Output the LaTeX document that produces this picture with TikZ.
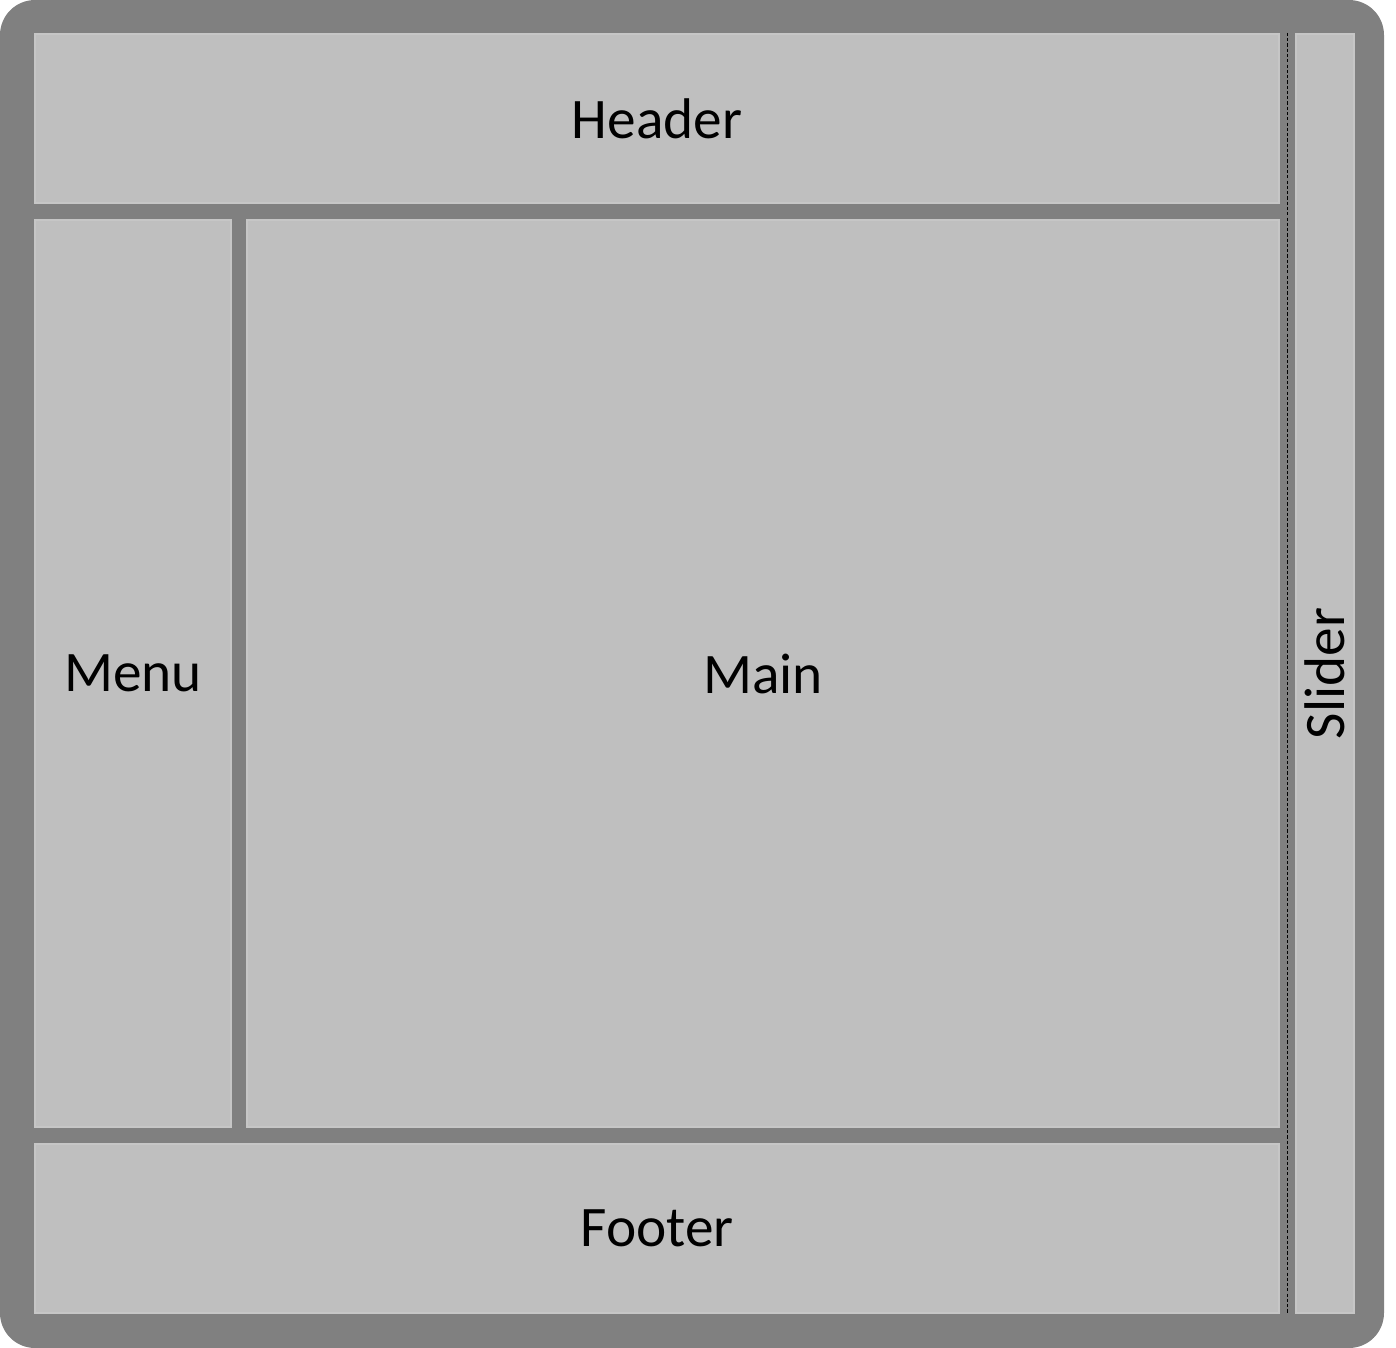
\documentclass[tikz,border=0pt]{standalone}
\usepackage{fontspec}
\setmainfont{Carlito}
\definecolor{frame}{HTML}{808080}
\definecolor{panelfill}{HTML}{BFBFBF}
\definecolor{paneledge}{HTML}{C6C6C6}
\begin{document}
\begin{tikzpicture}[
    x=0.01cm,
    y=-0.01cm,
    every node/.style={
        font=\fontsize{16.3}{19}\selectfont,
        align=center
    },
    panel/.style={
        draw=paneledge,
        line width=0.6pt,
        fill=panelfill,
        inner sep=0pt
    },
    splitter/.style={
        black,
        line width=0.45pt,
        dash pattern=on 0.9pt off 0.6pt
    }
]

\useasboundingbox (0,0) rectangle (1396,1348);

\fill[frame, rounded corners=0.35cm] (0,0) rectangle (1384,1348);

\node[panel, minimum width=12.44cm, minimum height=1.69cm] (header) at (657,118.5) {Header};

\node[panel, minimum width=1.96cm, minimum height=9.07cm] (menu) at (133,673.5) {Menu};

\node[panel, minimum width=10.32cm, minimum height=9.07cm] (main) at (763,673.5) {Main};

\node[panel, minimum width=12.44cm, minimum height=1.69cm] (footer) at (657,1228.5) {Footer};

\node[panel, minimum width=0.58cm, minimum height=12.79cm] (slider) at (1325,673.5) {};
\node[rotate=90] (sliderlabel) at (slider.center) {Slider};

\coordinate (splittop) at ([xshift=0.07cm]header.north east);
\coordinate (splitbottom) at ([xshift=0.07cm]footer.south east);
\draw[splitter] (splittop) -- (splitbottom);

\end{tikzpicture}
\end{document}
